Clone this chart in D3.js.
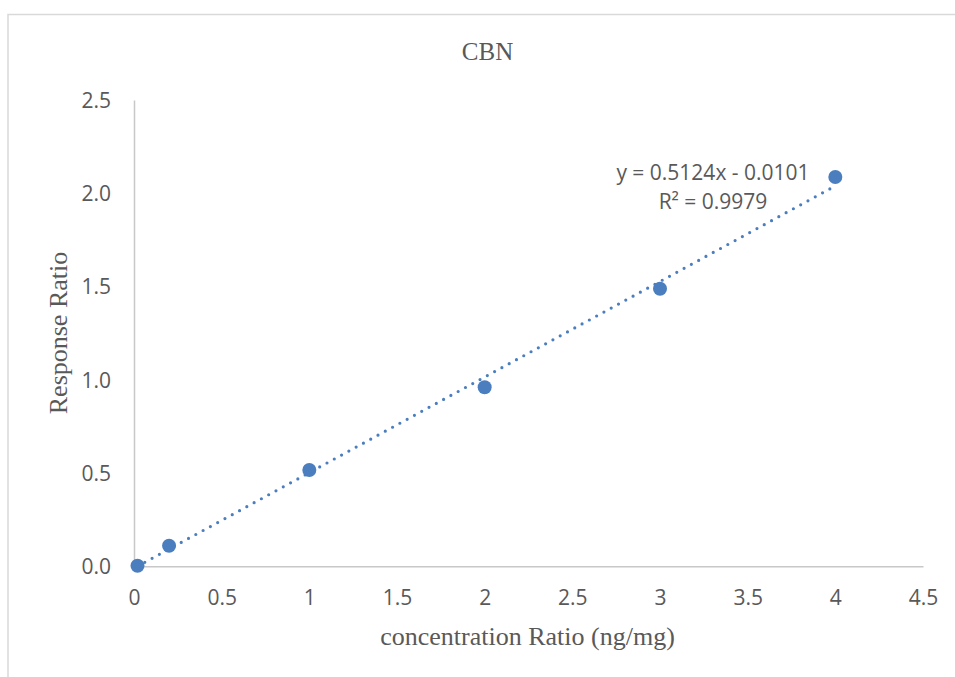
<!DOCTYPE html>
<html>
<head>
<meta charset="utf-8">
<script src="https://cdn.jsdelivr.net/npm/d3@7"></script>
<style>
  html, body { margin: 0; padding: 0; background: #fff; }
  svg { display: block; }
</style>
</head>
<body>
<svg id="chart" width="955" height="677"></svg>
<script>
const chartTitle = "CBN";
const xAxisTitle = "concentration Ratio (ng/mg)";
const yAxisTitle = "Response Ratio";
const xValues = [0.02, 0.2, 1, 2, 3, 4];
const yValues = [0.003, 0.11, 0.516, 0.96, 1.488, 2.087];
const xTicks = [0, 0.5, 1, 1.5, 2, 2.5, 3, 3.5, 4, 4.5];
const xTickLabels = ["0", "0.5", "1", "1.5", "2", "2.5", "3", "3.5", "4", "4.5"];
const yTicks = [0, 0.5, 1.0, 1.5, 2.0, 2.5];
const yTickLabels = ["0.0", "0.5", "1.0", "1.5", "2.0", "2.5"];
const trendSlope = 0.5124;
const trendIntercept = -0.0101;
const equationLines = ["y = 0.5124x - 0.0101", "R² = 0.9979"];

(function () {
const svg = d3.select("#chart");
const W = 955, H = 677;
const plotLeft = 134, plotRight = 923, plotTop = 100, plotBottom = 566.3;

const x = d3.scaleLinear().domain([0, 4.5]).range([plotLeft, plotRight]);
const y = d3.scaleLinear().domain([0, 2.5]).range([plotBottom, plotTop]);

const textColor = "#595959";
const axisColor = "#c8c8c8";
const markColor = "#4a7ebf";
const tickFont = "'Open Sans', sans-serif";
const serifFont = "'Liberation Serif', 'Times New Roman', serif";

// chart area border
svg.append("rect")
  .attr("x", 8).attr("y", 14.5)
  .attr("width", W + 20).attr("height", H + 20)
  .attr("fill", "#fff")
  .attr("stroke", "#d9d9d9").attr("stroke-width", 1.5);

// title
svg.append("text")
  .attr("x", 487.5).attr("y", 60)
  .attr("text-anchor", "middle")
  .attr("font-family", serifFont).attr("font-size", 25)
  .attr("fill", textColor)
  .text(chartTitle);

// axes
const xAxis = d3.axisBottom(x).tickValues(xTicks)
  .tickFormat((d, i) => xTickLabels[i]).tickSize(0).tickPadding(0);
const gx = svg.append("g").attr("transform", `translate(0,${plotBottom})`).call(xAxis);
gx.select(".domain").attr("stroke", axisColor).attr("stroke-width", 1.5);
gx.selectAll("text")
  .attr("font-family", tickFont).attr("font-size", 21)
  .attr("fill", textColor)
  .attr("dy", null)
  .attr("y", 39);

const yAxis = d3.axisLeft(y).tickValues(yTicks)
  .tickFormat((d, i) => yTickLabels[i]).tickSize(0).tickPadding(0);
const gy = svg.append("g").attr("transform", `translate(${plotLeft},0)`).call(yAxis);
gy.select(".domain").attr("stroke", axisColor).attr("stroke-width", 1.5);
gy.selectAll("text")
  .attr("font-family", tickFont).attr("font-size", 21)
  .attr("fill", textColor)
  .attr("x", -23)
  .attr("dy", "0.35em");

// axis titles
svg.append("text")
  .attr("x", 527.5).attr("y", 645)
  .attr("text-anchor", "middle")
  .attr("font-family", serifFont).attr("font-size", 26)
  .attr("fill", textColor)
  .text(xAxisTitle);

svg.append("text")
  .attr("transform", `translate(66.5,333) rotate(-90)`)
  .attr("text-anchor", "middle")
  .attr("font-family", serifFont).attr("font-size", 26)
  .attr("fill", textColor)
  .text(yAxisTitle);

// trendline (dotted)
const xMin = d3.min(xValues), xMax = d3.max(xValues);
const trendData = [xMin, xMax].map(v => [v, trendSlope * v + trendIntercept]);
svg.append("path")
  .datum(trendData)
  .attr("d", d3.line().x(d => x(d[0])).y(d => y(d[1])))
  .attr("fill", "none")
  .attr("stroke", markColor)
  .attr("stroke-width", 3.2)
  .attr("stroke-linecap", "round")
  .attr("stroke-dasharray", "0,8.3");

// points
svg.append("g").selectAll("circle")
  .data(xValues.map((v, i) => [v, yValues[i]]))
  .join("circle")
  .attr("cx", d => x(d[0]))
  .attr("cy", d => y(d[1]))
  .attr("r", 7)
  .attr("fill", markColor);

// equation label
const eq = svg.append("text")
  .attr("text-anchor", "middle")
  .attr("font-family", tickFont).attr("font-size", 21)
  .attr("fill", textColor);
equationLines.forEach((line, i) => {
  eq.append("tspan").attr("x", 713).attr("y", 180 + i * 29).text(line);
});
})();
</script>
</body>
</html>
